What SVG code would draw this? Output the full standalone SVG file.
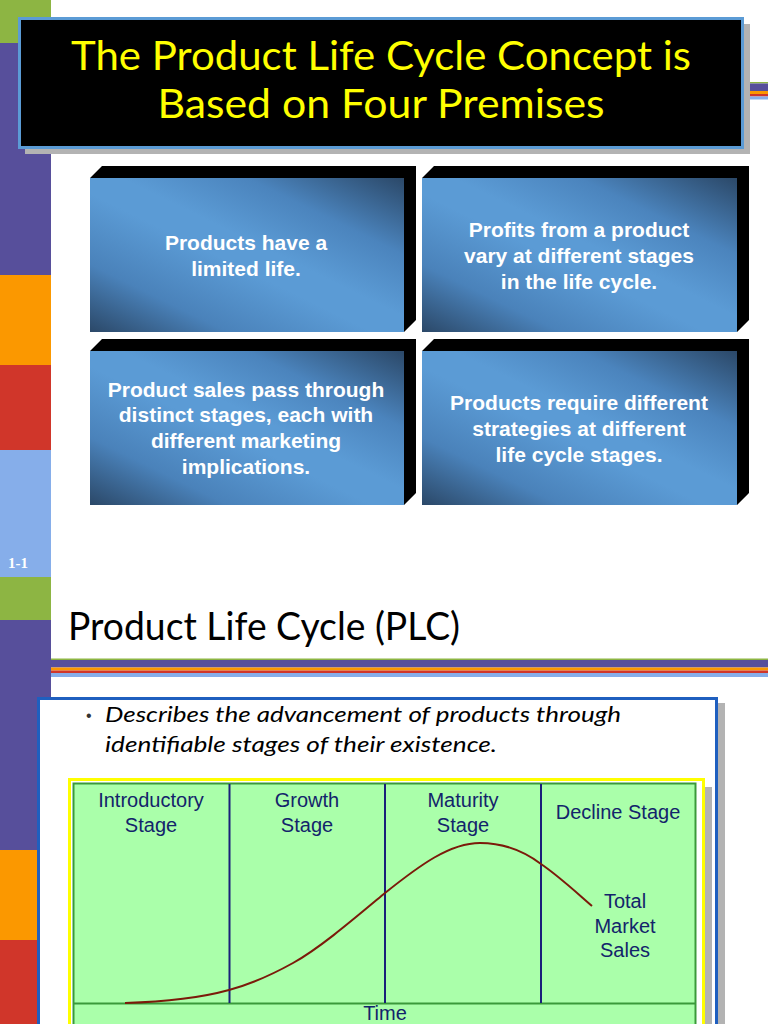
<svg xmlns="http://www.w3.org/2000/svg" width="768" height="1024" viewBox="0 0 768 1024">
<defs>
<linearGradient id="boxGrad" x1="1" y1="0" x2="0" y2="1">
<stop offset="0" stop-color="#2b4868"/>
<stop offset="0.25" stop-color="#4b84bd"/>
<stop offset="0.45" stop-color="#5b9bd5"/>
<stop offset="0.55" stop-color="#5b9bd5"/>
<stop offset="0.78" stop-color="#4a82ba"/>
<stop offset="1" stop-color="#2b4868"/>
</linearGradient>
<style>
.side{fill:#000}
.face{fill:url(#boxGrad)}
.btxt{font-family:"Liberation Sans",Arial,sans-serif;font-weight:bold;font-size:21px;fill:#fff;text-anchor:middle}
.title{font-family:Lato,"Open Sans",sans-serif;fill:#ffff00;font-size:41px}
.lbl{font-family:"Liberation Sans",Arial,sans-serif;font-size:20px;fill:#13246b;text-anchor:middle}
.div{stroke:#1a1f7a;stroke-width:2}
</style>
</defs>
<rect width="768" height="1024" fill="#fff"/>
<!-- left strip -->
<g id="strip">
<rect x="0" y="0" width="51" height="43" fill="#8db543"/>
<rect x="0" y="43" width="51" height="232" fill="#574f9b"/>
<rect x="0" y="275" width="51" height="90" fill="#fb9800"/>
<rect x="0" y="365" width="51" height="85" fill="#d0362a"/>
<rect x="0" y="450" width="51" height="127" fill="#86aeea"/>
<rect x="0" y="577" width="51" height="43" fill="#8db543"/>
<rect x="0" y="620" width="51" height="230" fill="#574f9b"/>
<rect x="0" y="850" width="51" height="90" fill="#fb9800"/>
<rect x="0" y="940" width="51" height="84" fill="#d0362a"/>
<text x="8" y="568" font-family="Liberation Serif,serif" font-weight="bold" font-size="15" fill="#fff">1-1</text>
</g>
<!-- top stripes right of title -->
<g id="stripes-top">
<rect x="700" y="82" width="68" height="1.5" fill="#8db543"/>
<rect x="700" y="83.5" width="68" height="7.5" fill="#574f9b"/>
<rect x="700" y="91" width="68" height="3" fill="#fb9800"/>
<rect x="700" y="94" width="68" height="2.5" fill="#d0362a"/>
<rect x="700" y="96.5" width="68" height="3" fill="#86aeea"/>
</g>
<!-- title box -->
<g id="title">
<rect x="25" y="24" width="725" height="130" fill="#b3b3b3"/>
<rect x="19.5" y="18.5" width="723" height="129" fill="#000" stroke="#5b9bd5" stroke-width="3"/>
<text class="title" x="381" y="70" text-anchor="middle" textLength="620" lengthAdjust="spacingAndGlyphs">The Product Life Cycle Concept is</text>
<text class="title" x="381" y="118" text-anchor="middle" textLength="447" lengthAdjust="spacingAndGlyphs">Based on Four Premises</text>
</g>
<!-- premise boxes -->
<g id="box1">
<polygon class="side" points="90,178 102,166 416,166 416,320 404,332 404,178"/>
<rect class="face" x="90" y="178" width="314" height="154"/>
<text class="btxt"><tspan x="246" y="250">Products have a</tspan><tspan x="246" y="276">limited life.</tspan></text>
</g>
<g id="box2">
<polygon class="side" points="422,178 434,166 749,166 749,320 737,332 737,178"/>
<rect class="face" x="422" y="178" width="315" height="154"/>
<text class="btxt"><tspan x="579" y="237">Profits from a product</tspan><tspan x="579" y="263">vary at different stages</tspan><tspan x="579" y="289">in the life cycle.</tspan></text>
</g>
<g id="box3">
<polygon class="side" points="90,351 102,339 416,339 416,493 404,505 404,351"/>
<rect class="face" x="90" y="351" width="314" height="154"/>
<text class="btxt"><tspan x="246" y="397">Product sales pass through</tspan><tspan x="246" y="422">distinct stages, each with</tspan><tspan x="246" y="448">different marketing</tspan><tspan x="246" y="474">implications.</tspan></text>
</g>
<g id="box4">
<polygon class="side" points="422,351 434,339 749,339 749,493 737,505 737,351"/>
<rect class="face" x="422" y="351" width="315" height="154"/>
<text class="btxt"><tspan x="579" y="410">Products require different</tspan><tspan x="579" y="436">strategies at different</tspan><tspan x="579" y="462">life cycle stages.</tspan></text>
</g>
<!-- second slide -->
<g id="plc-title">
<text x="68" y="640" font-family="Lato,'Open Sans',sans-serif" font-size="38" fill="#000" textLength="392" lengthAdjust="spacingAndGlyphs">Product Life Cycle (PLC)</text>
</g>
<g id="stripes-plc">
<rect x="51" y="658.5" width="717" height="1.5" fill="#8db543"/>
<rect x="51" y="660" width="717" height="7.5" fill="#574f9b"/>
<rect x="51" y="667.5" width="717" height="3" fill="#fb9800"/>
<rect x="51" y="670.5" width="717" height="2.5" fill="#d0362a"/>
<rect x="51" y="673" width="717" height="4" fill="#86aeea"/>
</g>
<g id="content-box">
<rect x="43" y="703" width="682" height="330" fill="#b3b3b3"/>
<rect x="38.5" y="698.5" width="678" height="330" fill="#fff" stroke="#1f5fbf" stroke-width="3"/>
<text x="86" y="721" font-family="Liberation Sans,sans-serif" font-size="16" fill="#333">•</text>
<text font-family="Lato,'Open Sans',sans-serif" font-style="italic" font-size="22" fill="#000"><tspan x="105" y="722" textLength="516" lengthAdjust="spacingAndGlyphs">Describes the advancement of products through</tspan><tspan x="105" y="752" textLength="392" lengthAdjust="spacingAndGlyphs">identifiable stages of their existence.</tspan></text>
</g>
<g id="chart">
<rect x="73" y="787" width="639" height="250" fill="#b3b3b3"/>
<rect x="69.5" y="779.5" width="634" height="260" fill="#fff" stroke="#ffff00" stroke-width="3"/>
<rect x="73.5" y="783.5" width="622" height="250" fill="#aaffaa" stroke="#3a9a3a" stroke-width="2"/>
<line x1="73" y1="1003.5" x2="696" y2="1003.5" stroke="#3a9a3a" stroke-width="2"/>
</g>
<g id="connectors">
<line class="div" x1="229.5" y1="784" x2="229.5" y2="1003"/>
<line class="div" x1="385" y1="784" x2="385" y2="1003"/>
<line class="div" x1="541" y1="784" x2="541" y2="1003"/>
<path d="M125,1003 C160,1002 200,998 229,990 C255,983 275,973 293,963 C320,948 355,918 385,893 C420,865 450,843 480,843 C505,843 525,852 541,864 C560,877 578,894 592,906" fill="none" stroke="#7b1a0a" stroke-width="2"/>
</g>
<g id="stage-intro"><text class="lbl"><tspan x="151" y="807">Introductory</tspan><tspan x="151" y="832">Stage</tspan></text></g>
<g id="stage-growth"><text class="lbl"><tspan x="307" y="807">Growth</tspan><tspan x="307" y="832">Stage</tspan></text></g>
<g id="stage-maturity"><text class="lbl"><tspan x="463" y="807">Maturity</tspan><tspan x="463" y="832">Stage</tspan></text></g>
<g id="stage-decline"><text class="lbl" x="618" y="819">Decline Stage</text></g>
<g id="total-sales"><text class="lbl"><tspan x="625" y="908">Total</tspan><tspan x="625" y="933">Market</tspan><tspan x="625" y="957">Sales</tspan></text></g>
<g id="time"><text class="lbl" x="385" y="1020">Time</text></g>
</svg>
